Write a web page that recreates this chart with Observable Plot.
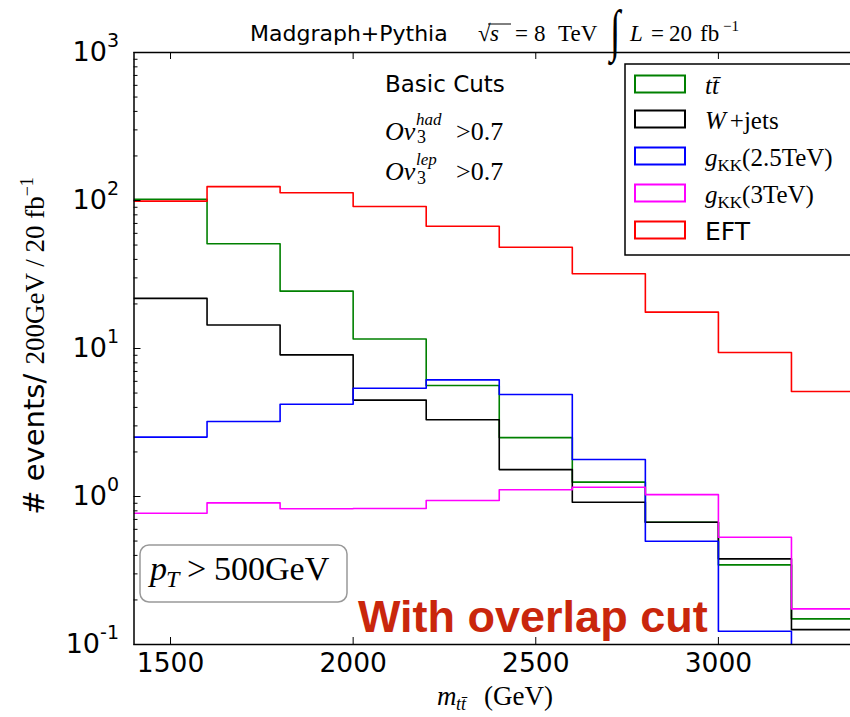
<!DOCTYPE html>
<html>
<head>
<meta charset="utf-8">
<script src="https://cdn.jsdelivr.net/npm/d3@7"></script>
<script src="https://cdn.jsdelivr.net/npm/@observablehq/plot@0.6"></script>
<style>
  html, body { margin: 0; padding: 0; background: #fff; overflow: hidden; }
  #wrap { position: relative; width: 850px; height: 717px; overflow: hidden; }
  #chart { position: absolute; left: 0; top: 0; width: 880px; }
  #chart svg { max-width: none !important; display: block; }
</style>
</head>
<body>
<div id="wrap"><div id="chart"></div></div>

<script>
// m_tt histogram bins (lower edges, GeV); every bin is 200 GeV wide
const binEdges = [1400, 1600, 1800, 2000, 2200, 2400, 2600, 2800, 3000, 3200];
const binWidth = 200;

// events / 200 GeV / 20 fb^-1 per bin
const ttbar = [102, 51, 24.4, 11.6, 5.62, 2.5, 1.25, 0.67, 0.345, 0.149];
const wjets = [21.8, 14.4, 9.06, 4.48, 3.3, 1.52, 0.915, 0.67, 0.379, 0.126];
const gkk25 = [2.52, 3.21, 4.2, 5.39, 6.14, 4.89, 1.78, 0.499, 0.123, 0.08];
const gkk3  = [0.771, 0.906, 0.826, 0.83, 0.94, 1.11, 1.156, 1.03, 0.531, 0.174];
const eft   = [99, 124, 112.7, 91, 67, 48.3, 32, 17.6, 9.4, 5.12];

const seriesKeys = ["ttbar", "wjets", "gkk25", "gkk3", "eft"];
const seriesValues = [ttbar, wjets, gkk25, gkk3, eft];
const seriesColors = ["#008000", "#000000", "#0000ff", "#ff00ff", "#ff0000"];

// axis ticks
const xTicks = [1500, 2000, 2500, 3000];
const yMajor = [0.1, 1, 10, 100, 1000];
const yMinor = [-1, 0, 1, 2].flatMap(e => [2, 3, 4, 5, 6, 7, 8, 9].map(m => m * Math.pow(10, e)));

// step outline points: one per bin edge, plus the closing upper edge
const rows = seriesKeys.flatMap((key, s) => {
  const vals = seriesValues[s];
  const pts = binEdges.map((x, i) => ({series: key, x, y: vals[i]}));
  pts.push({series: key, x: binEdges[binEdges.length - 1] + binWidth, y: vals[vals.length - 1]});
  return pts;
});

const SANS = "DejaVu Sans, sans-serif";
const SERIF = "Liberation Serif, serif";

const W = 880, H = 717;
const mL = 133.5, mR = 16, mT = 52, mB = 73;
const frameW = W - mL - mR, frameH = H - mT - mB;

const chart = Plot.plot({
  width: W,
  height: H,
  marginLeft: mL,
  marginRight: mR,
  marginTop: mT,
  marginBottom: mB,
  style: {fontFamily: SANS, fontSize: "26px", color: "#000", background: "#fff"},
  x: {domain: [1400, binEdges[binEdges.length - 1] + binWidth]},
  y: {type: "log", domain: [0.1, 1000]},
  color: {domain: seriesKeys, range: seriesColors},
  marks: [
    ...seriesKeys.map(key => Plot.line(rows.filter(r => r.series === key), {
      x: "x", y: "y", stroke: "series", curve: "step-after", strokeWidth: 1.6, clip: true
    })),
    // inward tick marks (bottom, top, left)
    Plot.ruleX(xTicks, {x: d => d, insetTop: frameH - 7, stroke: "#000", strokeWidth: 1}),
    Plot.ruleX(xTicks, {x: d => d, insetBottom: frameH - 7, stroke: "#000", strokeWidth: 1}),
    Plot.ruleY(yMajor, {y: d => d, insetRight: frameW - 7, stroke: "#000", strokeWidth: 1}),
    Plot.ruleY(yMinor, {y: d => d, insetRight: frameW - 4, stroke: "#000", strokeWidth: 1}),
    Plot.axisX({ticks: xTicks, tickSize: 0, tickPadding: 9, fontSize: 26.5, tickFormat: d3.format("d"), label: null}),
    Plot.axisY({ticks: yMajor, tickSize: 0, tickPadding: 15, fontSize: 27,
                tickFormat: d => "10^" + Math.round(Math.log10(d)), label: null}),
    Plot.frame({stroke: "#000", strokeWidth: 1.5})
  ]
});

// power-of-ten tick labels with a raised exponent
d3.select(chart).selectAll('g[aria-label="y-axis tick label"] text').each(function () {
  const m = /10\^(-?\d+)/.exec(this.textContent);
  if (!m) return;
  const t = d3.select(this);
  t.text("10");
  t.append("tspan").attr("dy", "-14").attr("font-size", "19px").text(m[1]);
});

// text with raised / lowered pieces (rise > 0 means up), each piece optionally placed at its own x
function mtext(parent, x, y, spans, base = {}) {
  const t = parent.append("text")
    .attr("x", x).attr("y", y)
    .attr("font-family", base.family || SERIF)
    .attr("font-size", base.size)
    .attr("fill", base.fill || "#000")
    .attr("font-weight", base.weight || null)
    .attr("text-anchor", base.anchor || "start")
    .attr("transform", base.transform || null);
  let cur = 0;
  for (const s of spans) {
    const rise = s.rise || 0;
    const ts = t.append("tspan").text(s.t).attr("dy", cur - rise);
    cur = rise;
    if (s.x != null) ts.attr("x", s.x);
    if (s.dx) ts.attr("dx", s.dx);
    if (s.size) ts.attr("font-size", s.size);
    if (s.italic) ts.attr("font-style", "italic");
    if (s.family) ts.attr("font-family", s.family);
  }
  return t;
}

const ann = d3.select(chart).append("g").attr("class", "annotations");

// title
mtext(ann, 250, 41, [{t: "Madgraph+Pythia"}], {family: SANS, size: 22});
mtext(ann, 478, 41, [
  {t: "√"}, {t: "s", italic: true, x: 490}, {t: "=", x: 515}, {t: "8", x: 534}, {t: "TeV", x: 558}
], {size: 23});
ann.append("line").attr("x1", 488).attr("x2", 511).attr("y1", 24).attr("y2", 24)
  .attr("stroke", "#000").attr("stroke-width", 1);
mtext(ann, 0, 0, [{t: "∫"}], {size: 50, transform: "translate(610,50) scale(0.75,1.15)"});
mtext(ann, 630, 41, [
  {t: "L", italic: true}, {t: "=", x: 651}, {t: "20", x: 669}, {t: "fb", x: 700},
  {t: "−1", size: 15, rise: 10, x: 723}
], {size: 23});

// selection notes
mtext(ann, 385, 92, [{t: "Basic Cuts"}], {family: SANS, size: 23});
mtext(ann, 385, 140, [
  {t: "Ov", italic: true}, {t: "had", italic: true, size: 17, rise: 15, x: 416},
  {t: "3", size: 18, rise: -3, x: 417}, {t: ">0.7", x: 456}
], {size: 26});
mtext(ann, 385, 180, [
  {t: "Ov", italic: true}, {t: "lep", italic: true, size: 17, rise: 15, x: 416},
  {t: "3", size: 18, rise: -4, x: 417}, {t: ">0.7", x: 456}
], {size: 26});

// p_T box
ann.append("rect").attr("x", 140).attr("y", 545).attr("width", 207).attr("height", 57).attr("rx", 9)
  .attr("fill", "#fff").attr("stroke", "#999").attr("stroke-width", 1.5);
mtext(ann, 150, 580, [
  {t: "p", italic: true}, {t: "T", italic: true, size: 24, rise: -7, x: 166},
  {t: ">", x: 187}, {t: "500GeV", x: 214}
], {size: 34});

// overlap-cut note
mtext(ann, 358, 632, [{t: "With overlap cut"}],
  {family: "Liberation Sans, Arial, sans-serif", size: 45, weight: "bold", fill: "#c9260c"});

// axis titles
mtext(ann, 437, 705, [
  {t: "m", italic: true}, {t: "tt̄", italic: true, size: 18, rise: -5, x: 456}, {t: "(GeV)", x: 484}
], {size: 27});
mtext(ann, 0, 0, [
  {t: "# events/ ", family: SANS, size: 29}, {t: "200GeV / 20 fb"}, {t: "−1", size: 18, rise: 11}
], {size: 27, anchor: "middle", transform: "translate(44,346) rotate(-90)"});

// legend
const legendLabels = [
  [{t: "t", italic: true}, {t: "t̄", italic: true}],
  [{t: "W", italic: true}, {t: "+jets", dx: 4}],
  [{t: "g", italic: true}, {t: "KK", size: 17, rise: -5}, {t: "(2.5TeV)", rise: 0}],
  [{t: "g", italic: true}, {t: "KK", size: 17, rise: -5}, {t: "(3TeV)", rise: 0}],
  [{t: "EFT", family: SANS}]
];
const legendRowY = [84, 119, 156, 193, 230];
const lg = ann.append("g").attr("class", "legend");
lg.append("rect").attr("x", 625).attr("y", 64).attr("width", 260).attr("height", 191)
  .attr("fill", "#fff").attr("stroke", "#000").attr("stroke-width", 1.5);
seriesKeys.forEach((key, i) => {
  lg.append("rect").attr("x", 635).attr("y", legendRowY[i] - 8.5).attr("width", 50).attr("height", 17)
    .attr("fill", "#fff").attr("stroke", seriesColors[i]).attr("stroke-width", 2);
  mtext(lg, 705, legendRowY[i] + 9.5, legendLabels[i], {size: 25});
});

document.getElementById("chart").appendChild(chart);
</script>
</body>
</html>
